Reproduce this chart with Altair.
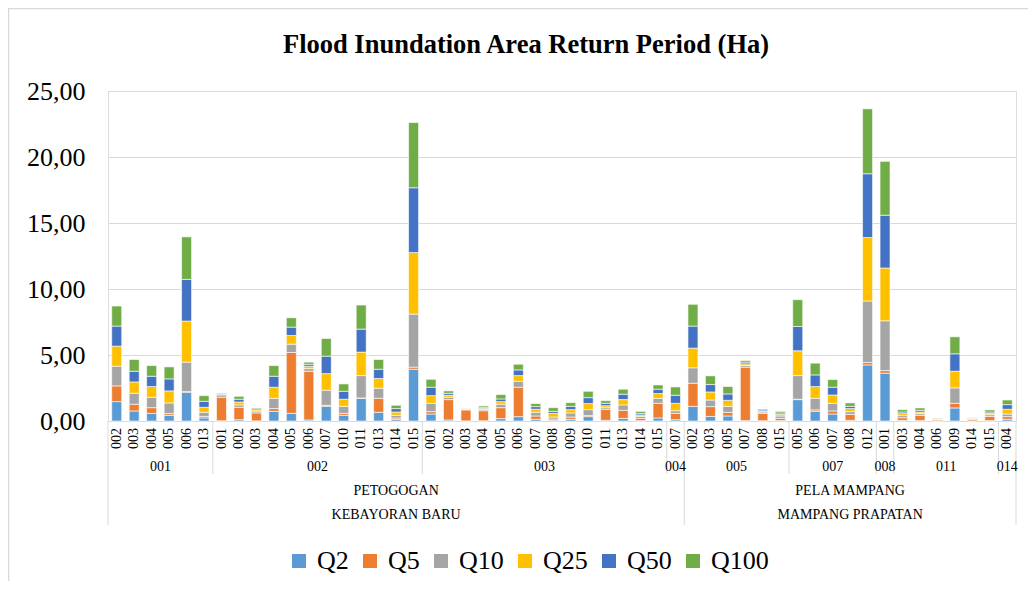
import altair as alt
import pandas as pd

# ---------------- data ----------------
rt_labels = ["002", "003", "004", "005", "006", "013",
             "001", "002", "003", "004", "005", "006", "007", "010", "011", "013", "014", "015",
             "001", "002", "003", "004", "005", "006", "007", "008", "009", "010", "011", "013", "014", "015",
             "007",
             "002", "003", "005", "007", "008", "015",
             "005", "006", "007", "008", "012",
             "001",
             "003", "004", "006", "009", "014", "015",
             "004"]
rw_names = ["001", "002", "003", "004", "005", "007", "008", "011", "014"]
rw_counts = [6, 12, 14, 1, 6, 5, 1, 6, 1]
kel_names = ["PETOGOGAN", "PELA MAMPANG"]
kel_counts = [33, 19]
kec_names = ["KEBAYORAN BARU", "MAMPANG PRAPATAN"]
kec_counts = [33, 19]

series = ["Q2", "Q5", "Q10", "Q25", "Q50", "Q100"]
colors = ["#5B9BD5", "#ED7D31", "#A5A5A5", "#FFC000", "#4472C4", "#70AD47"]

q2 = [1.47, 0.76, 0.58, 0.43, 2.18, 0.23,
      0.02, 0.10, 0.01, 0.73, 0.58, 0.08, 1.11, 0.43, 1.72, 0.66, 0.13, 3.92,
      0.53, 0.08, 0.01, 0.02, 0.18, 0.33, 0.13, 0.05, 0.13, 0.33, 0.05, 0.20, 0.03, 0.23,
      0.10,
      1.11, 0.35, 0.38, 0.03, 0.02, 0.03,
      1.62, 0.73, 0.53, 0.05, 4.25,
      3.62,
      0.05, 0.03, 0.01, 0.99, 0.01, 0.03,
      0.13]
q5 = [1.19, 0.51, 0.43, 0.13, 0.05, 0.12,
      1.78, 0.94, 0.60, 0.21, 4.61, 3.69, 0.08, 0.15, 0.03, 1.06, 0.10, 0.16,
      0.18, 1.54, 0.83, 0.76, 0.83, 2.23, 0.25, 0.10, 0.17, 0.08, 0.84, 0.61, 0.17, 1.11,
      0.48,
      1.75, 0.74, 0.28, 4.05, 0.56, 0.17,
      0.03, 0.11, 0.23, 0.46, 0.18,
      0.20,
      0.20, 0.40, 0.08, 0.35, 0.10, 0.32,
      0.20]
q10 = [1.49, 0.83, 0.79, 0.81, 2.23, 0.31,
       0.17, 0.18, 0.13, 0.78, 0.63, 0.20, 1.14, 0.53, 1.69, 0.76, 0.20, 4.02,
       0.63, 0.18, 0.03, 0.10, 0.26, 0.45, 0.28, 0.15, 0.31, 0.45, 0.12, 0.41, 0.15, 0.38,
       0.20,
       1.17, 0.50, 0.45, 0.12, 0.10, 0.18,
       1.79, 0.88, 0.58, 0.20, 4.66,
       3.77,
       0.16, 0.13, 0.03, 1.17, 0.06, 0.13,
       0.20]
q25 = [1.52, 0.86, 0.81, 0.91, 3.11, 0.38,
       0.05, 0.22, 0.10, 0.84, 0.66, 0.18, 1.26, 0.54, 1.78, 0.74, 0.25, 4.66,
       0.58, 0.15, 0.02, 0.08, 0.20, 0.43, 0.23, 0.28, 0.25, 0.46, 0.15, 0.40, 0.11, 0.36,
       0.56,
       1.49, 0.61, 0.46, 0.13, 0.08, 0.13,
       1.88, 0.89, 0.63, 0.23, 4.81,
       4.00,
       0.15, 0.12, 0.02, 1.26, 0.04, 0.10,
       0.36]
q50 = [1.52, 0.81, 0.78, 0.91, 3.16, 0.45,
       0.05, 0.21, 0.08, 0.83, 0.63, 0.15, 1.32, 0.60, 1.74, 0.70, 0.26, 4.91,
       0.64, 0.15, 0.02, 0.08, 0.20, 0.43, 0.20, 0.15, 0.25, 0.45, 0.18, 0.41, 0.12, 0.33,
       0.61,
       1.67, 0.56, 0.48, 0.13, 0.08, 0.10,
       1.84, 0.88, 0.59, 0.17, 4.83,
       4.00,
       0.12, 0.13, 0.02, 1.32, 0.02, 0.10,
       0.35]
q100 = [1.52, 0.89, 0.81, 0.91, 3.22, 0.43,
        0.05, 0.22, 0.07, 0.81, 0.71, 0.16, 1.34, 0.56, 1.82, 0.74, 0.25, 4.94,
        0.60, 0.18, 0.02, 0.10, 0.33, 0.43, 0.23, 0.28, 0.28, 0.48, 0.20, 0.38, 0.15, 0.32,
        0.63,
        1.65, 0.66, 0.56, 0.12, 0.07, 0.12,
        2.03, 0.89, 0.58, 0.26, 4.92,
        4.08,
        0.18, 0.18, 0.04, 1.29, 0.02, 0.16,
        0.35]

values = [q2, q5, q10, q25, q50, q100]
n = len(rt_labels)

# ---------------- tables ----------------
rows = []
for i in range(n):
    for k, s in enumerate(series):
        rows.append({"pos": i + 0.5, "rt": rt_labels[i], "series": s, "sidx": k, "value": values[k][i]})
df = pd.DataFrame(rows)
rt_df = pd.DataFrame({"pos": [i + 0.5 for i in range(n)], "rt": rt_labels})


def groups(names, counts):
    out, start = [], 0
    for nm, c in zip(names, counts):
        out.append({"name": nm, "start": start, "end": start + c, "mid": start + c / 2})
        start += c
    return pd.DataFrame(out)


rw_df = groups(rw_names, rw_counts)
kel_df = groups(kel_names, kel_counts)
kec_df = groups(kec_names, kec_counts)

long_b = sorted(set([0] + list(kel_df["end"])))
short_b = [b for b in rw_df["end"] if b not in long_b]
long_df = pd.DataFrame({"b": long_b})
short_df = pd.DataFrame({"b": short_b})

W, H = 908, 330
FONT = "Liberation Serif"
xscale = alt.Scale(domain=[0, n], nice=False, zero=False, padding=0)

bars = alt.Chart(df).mark_bar(size=10, stroke="white", strokeWidth=0.6).encode(
    x=alt.X("pos:Q", scale=xscale,
            axis=alt.Axis(labels=False, ticks=False, grid=False, title=None,
                          domain=True, domainColor="#D9D9D9", domainWidth=1)),
    y=alt.Y("value:Q", stack="zero", scale=alt.Scale(domain=[0, 25], nice=False),
            axis=alt.Axis(values=[0, 5, 10, 15, 20, 25],
                          labelExpr="replace(format(datum.value, '.2f'), '.', ',')",
                          title=None, domain=False, ticks=False, grid=True,
                          gridColor="#D9D9D9", gridWidth=1,
                          labelFont=FONT, labelFontSize=26, labelPadding=23,
                          labelColor="black")),
    color=alt.Color("series:N", scale=alt.Scale(domain=series, range=colors),
                    legend=alt.Legend(orient="none", legendX=178, legendY=457,
                                      direction="horizontal", title=None,
                                      symbolType="square", symbolSize=196,
                                      symbolStrokeWidth=0, labelFont=FONT,
                                      labelFontSize=26, labelColor="black",
                                      labelOffset=5, columnPadding=8,
                                      gridAlign="none")),
    order=alt.Order("sidx:Q", sort="ascending"),
)

rt_text = alt.Chart(rt_df).mark_text(angle=270, align="right", baseline="middle",
                                     font=FONT, fontSize=14, color="black").encode(
    x=alt.X("pos:Q", scale=xscale), y=alt.value(H + 7), text="rt:N")

rw_text = alt.Chart(rw_df).mark_text(baseline="middle", font=FONT, fontSize=14,
                                     color="black").encode(
    x=alt.X("mid:Q", scale=xscale), y=alt.value(H + 46), text="name:N")

kel_text = alt.Chart(kel_df).mark_text(baseline="middle", font=FONT, fontSize=14,
                                       color="black").encode(
    x=alt.X("mid:Q", scale=xscale), y=alt.value(H + 70), text="name:N")

kec_text = alt.Chart(kec_df).mark_text(baseline="middle", font=FONT, fontSize=14,
                                       color="black").encode(
    x=alt.X("mid:Q", scale=xscale), y=alt.value(H + 94), text="name:N")

short_rules = alt.Chart(short_df).mark_rule(color="#D9D9D9", strokeWidth=1).encode(
    x=alt.X("b:Q", scale=xscale), y=alt.value(H), y2=alt.value(H + 53))

long_rules = alt.Chart(long_df).mark_rule(color="#D9D9D9", strokeWidth=1).encode(
    x=alt.X("b:Q", scale=xscale), y=alt.value(H), y2=alt.value(H + 104))

frame = alt.Chart(pd.DataFrame({"a": [0]})).mark_rect(
    fill="transparent", stroke="#D9D9D9", strokeWidth=1.5).encode(
    x=alt.value(-99.5), x2=alt.value(W + 40), y=alt.value(-82.5), y2=alt.value(H + 250))

chart = alt.layer(frame, short_rules, long_rules, bars, rt_text, rw_text, kel_text, kec_text).properties(
    width=W, height=H,
    title=alt.TitleParams("Flood Inundation Area Return Period (Ha)", font=FONT,
                          fontSize=26.5, fontWeight="bold", color="black",
                          anchor="middle", frame="group", dx=-36, offset=-51),
    autosize=alt.AutoSizeParams(type="none"),
    padding={"left": 100, "top": 83, "right": 12, "bottom": 160},
).configure_view(stroke=None).configure(background="white")

chart.save("out.html", embed_options={"renderer": "svg", "actions": False})
